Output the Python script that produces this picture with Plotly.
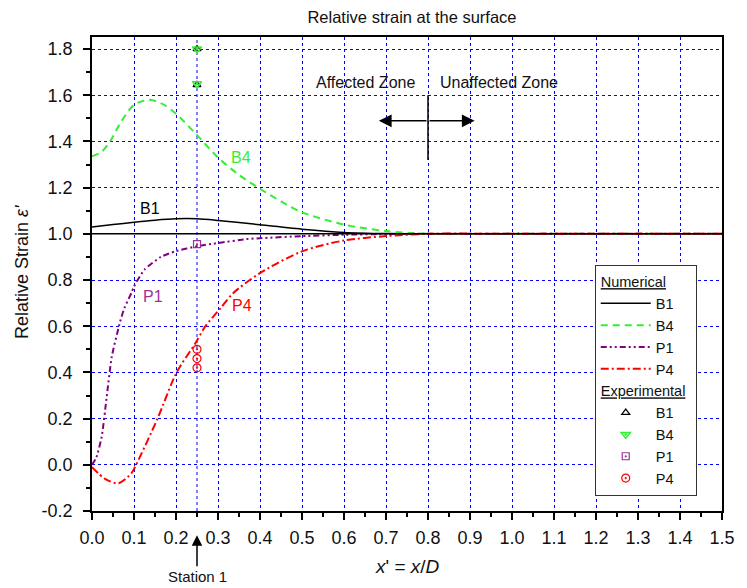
import plotly.graph_objects as go

# ---------------- data ----------------
b1_x = [0, 0.05, 0.1, 0.15, 0.2, 0.25, 0.3, 0.35, 0.4, 0.5, 0.6, 0.7, 0.8, 1.0, 1.5]
b1_y = [1.029, 1.04, 1.05, 1.059, 1.065, 1.065, 1.058, 1.049, 1.039, 1.02, 1.006, 1.001, 1.0, 1.0, 1.0]

b4_x = [0, 0.023, 0.043, 0.07, 0.1, 0.137, 0.172, 0.2, 0.246, 0.3, 0.35, 0.4, 0.45, 0.5, 0.6, 0.7, 0.8, 1.0, 1.5]
b4_y = [1.336, 1.355, 1.40, 1.487, 1.558, 1.58, 1.558, 1.52, 1.435, 1.33, 1.255, 1.195, 1.14, 1.093, 1.04, 1.012, 1.0, 1.0, 1.0]

p1_x = [0, 0.01, 0.023, 0.035, 0.047, 0.067, 0.077, 0.094, 0.1, 0.125, 0.164, 0.2, 0.25, 0.3, 0.367, 0.4, 0.5, 0.6, 0.7, 0.8, 1.5]
p1_y = [0, 0.03, 0.12, 0.294, 0.468, 0.62, 0.678, 0.745, 0.772, 0.845, 0.9, 0.925, 0.946, 0.96, 0.977, 0.981, 0.99, 0.996, 0.999, 1.0, 1.0]

p4_x = [0, 0.031, 0.063, 0.094, 0.105, 0.156, 0.2015, 0.246, 0.27, 0.306, 0.336, 0.4, 0.5, 0.6, 0.7, 0.8, 1.0, 1.5]
p4_y = [-0.01, -0.061, -0.08, -0.036, 0.0, 0.2, 0.4, 0.526, 0.6, 0.678, 0.743, 0.83, 0.924, 0.971, 0.99, 1.0, 1.0, 1.0]

exp_b1_x = [0.25, 0.25]
exp_b1_y = [1.80, 1.645]
exp_b4_x = [0.25, 0.25]
exp_b4_y = [1.80, 1.65]
exp_p1_x = [0.25]
exp_p1_y = [0.955]
exp_p4_x = [0.25, 0.25, 0.25]
exp_p4_y = [0.50, 0.46, 0.42]

x_ticks = [0, 0.1, 0.2, 0.3, 0.4, 0.5, 0.6, 0.7, 0.8, 0.9, 1.0, 1.1, 1.2, 1.3, 1.4, 1.5]
x_tick_labels = ["0.0", "0.1", "0.2", "0.3", "0.4", "0.5", "0.6", "0.7", "0.8", "0.9",
                 "1.0", "1.1", "1.2", "1.3", "1.4", "1.5"]
y_ticks = [-0.2, 0, 0.2, 0.4, 0.6, 0.8, 1.0, 1.2, 1.4, 1.6, 1.8]
y_tick_labels = ["-0.2", "0.0", "0.2", "0.4", "0.6", "0.8", "1.0", "1.2", "1.4", "1.6", "1.8"]

# ---------------- styles ----------------
FONT = "Arial, Liberation Sans, sans-serif"
GREEN = "#33ee33"
PURPLE = "#800080"
PURPLE_T = "#993399"
RED = "#ff0000"
TXT = "#111111"

fig = go.Figure()

fig.add_trace(go.Scatter(x=b1_x, y=b1_y, mode="lines", name="B1",
                         line=dict(color="black", width=1.5, shape="spline", smoothing=0.8),
                         legendgroup="num", legendgrouptitle=dict(text="<u>Numerical</u>")))
fig.add_trace(go.Scatter(x=b4_x, y=b4_y, mode="lines", name="B4",
                         line=dict(color=GREEN, width=2, dash="7px,5px", shape="spline", smoothing=0.8),
                         legendgroup="num"))
fig.add_trace(go.Scatter(x=p1_x, y=p1_y, mode="lines", name="P1",
                         line=dict(color=PURPLE, width=2, dash="6px,3px,2px,3px,2px,3px",
                                   shape="spline", smoothing=0.5),
                         legendgroup="num"))
fig.add_trace(go.Scatter(x=p4_x, y=p4_y, mode="lines", name="P4",
                         line=dict(color=RED, width=2, dash="8px,3px,2px,3px", shape="spline", smoothing=0.8),
                         legendgroup="num"))

fig.add_trace(go.Scatter(x=exp_b1_x, y=exp_b1_y, mode="markers", name="B1",
                         marker=dict(symbol="triangle-up-open", color="black", size=7, line=dict(width=1.2)),
                         legendgroup="exp", legendgrouptitle=dict(text="<u>Experimental</u>")))
fig.add_trace(go.Scatter(x=exp_b4_x, y=exp_b4_y, mode="markers", name="B4",
                         marker=dict(symbol="triangle-down-open-dot", color=GREEN, size=8, line=dict(width=1.5)),
                         legendgroup="exp"))
fig.add_trace(go.Scatter(x=exp_p1_x, y=exp_p1_y, mode="markers", name="P1",
                         marker=dict(symbol="square-open-dot", color=PURPLE_T, size=7, line=dict(width=1.2)),
                         legendgroup="exp"))
fig.add_trace(go.Scatter(x=exp_p4_x, y=exp_p4_y, mode="markers", name="P4",
                         marker=dict(symbol="circle-open-dot", color=RED, size=8, line=dict(width=1.2)),
                         legendgroup="exp"))

axis_common = dict(
    showline=True, linecolor="black", linewidth=1.5, mirror=True,
    ticks="outside", ticklen=7, tickwidth=1.5, tickcolor="black",
    showgrid=True, gridcolor="#0000ff", griddash="dot", gridwidth=1,
    zeroline=False, tickfont=dict(family=FONT, size=18, color=TXT),
)

fig.update_xaxes(range=[0, 1.5], tickvals=x_ticks, ticktext=x_tick_labels,
                 minor=dict(dtick=0.05, tick0=0, ticks="outside", ticklen=4, tickcolor="black", showgrid=False),
                 ticklabelstandoff=3, **axis_common)
fig.update_yaxes(range=[-0.2, 1.852], tickvals=y_ticks, ticktext=y_tick_labels,
                 minor=dict(dtick=0.1, tick0=0, ticks="outside", ticklen=4, tickcolor="black", showgrid=False),
                 ticklabelstandoff=7, **axis_common)

shapes = [
    # reference line at 1.0
    dict(type="line", xref="x", yref="y", x0=0, x1=1.5, y0=1.0, y1=1.0,
         line=dict(color="black", width=1.5)),
    # station grid line
    dict(type="line", xref="x", yref="paper", x0=0.25, x1=0.25, y0=0, y1=1,
         line=dict(color="#0000ff", width=1, dash="dot"), layer="below"),
    # zone divider
    dict(type="line", xref="x", yref="y", x0=0.8, x1=0.8, y0=1.32, y1=1.6,
         line=dict(color="black", width=1.5)),
]

annotations = [
    dict(text="Relative Strain <i>ε'</i>", xref="paper", yref="paper", x=-0.112, y=0.505,
         textangle=-90, showarrow=False, font=dict(family=FONT, size=18, color=TXT),
         xanchor="center", yanchor="middle"),
    dict(text="<i>x</i>' = <i>x</i>/<i>D</i>", xref="paper", yref="paper", x=0.5, y=-0.118,
         showarrow=False, font=dict(family=FONT, size=19, color=TXT),
         xanchor="center", yanchor="middle"),
    dict(text="Station 1", xref="x", yref="paper", x=0.25, y=-0.0513, ax=0, ay=41,
         showarrow=True, arrowhead=2, arrowsize=1.4, arrowwidth=1.5, arrowcolor="black",
         font=dict(family=FONT, size=15, color=TXT)),
    dict(text="Affected Zone", xref="x", yref="y", x=0.651, y=1.655, showarrow=False,
         font=dict(family=FONT, size=16, color=TXT)),
    dict(text="Unaffected Zone", xref="x", yref="y", x=0.969, y=1.655, showarrow=False,
         font=dict(family=FONT, size=16, color=TXT)),
    dict(text="", xref="x", yref="y", x=0.683, y=1.489, ax=0.8, ay=1.489, axref="x", ayref="y",
         showarrow=True, arrowhead=2, arrowsize=1.7, arrowwidth=1.5, arrowcolor="black"),
    dict(text="", xref="x", yref="y", x=0.911, y=1.489, ax=0.8, ay=1.489, axref="x", ayref="y",
         showarrow=True, arrowhead=2, arrowsize=1.7, arrowwidth=1.5, arrowcolor="black"),
    dict(text="B1", xref="x", yref="y", x=0.139, y=1.108, showarrow=False,
         font=dict(family=FONT, size=16, color="black")),
    dict(text="B4", xref="x", yref="y", x=0.354, y=1.329, showarrow=False,
         font=dict(family=FONT, size=16, color=GREEN)),
    dict(text="P1", xref="x", yref="y", x=0.145, y=0.727, showarrow=False,
         font=dict(family=FONT, size=16, color=PURPLE_T)),
    dict(text="P4", xref="x", yref="y", x=0.356, y=0.688, showarrow=False,
         font=dict(family=FONT, size=16, color=RED)),
]

fig.update_layout(
    width=747, height=588,
    margin=dict(l=92, r=15, t=37, b=77),
    paper_bgcolor="white", plot_bgcolor="white",
    font=dict(family=FONT, size=15, color=TXT),
    title=dict(text="Relative strain at the surface", x=412 / 747, xanchor="center",
               y=1 - 17 / 588, yanchor="middle", font=dict(family=FONT, size=16.5, color=TXT)),
    showlegend=True,
    legend=dict(x=0.798, y=0.52, xanchor="left", yanchor="top",
                bgcolor="white", bordercolor="#333", borderwidth=1,
                traceorder="grouped", tracegroupgap=0, itemwidth=50,
                font=dict(family=FONT, size=14.5, color=TXT),
                grouptitlefont=dict(family=FONT, size=14.5, color=TXT)),
    shapes=shapes, annotations=annotations,
)

fig.write_html("out.html")
